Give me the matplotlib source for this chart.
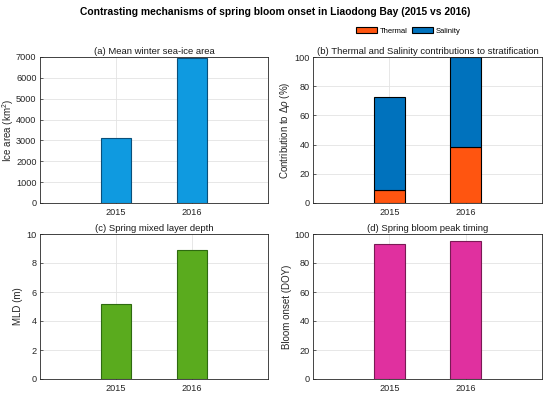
import matplotlib.pyplot as plt
from matplotlib.patches import Patch

years = ["2015", "2016"]
ice_area = [3120, 6940]
thermal = [8.7, 38.1]
salinity = [63.8, 61.9]
mld = [5.2, 8.9]
bloom_doy = [93.3, 95.2]

plt.rcParams["font.family"] = "Liberation Sans"
plt.rcParams["font.size"] = 7
plt.rcParams["mathtext.fontset"] = "custom"
plt.rcParams["mathtext.rm"] = "Liberation Sans"
plt.rcParams["mathtext.it"] = "Liberation Sans:italic"


def style_ax(ax, ymax, yticks, title, ylabel, label_x):
    ax.set_xlim(0, 3)
    ax.set_xticks([1, 2])
    ax.set_xticklabels(years)
    ax.set_ylim(0, ymax)
    ax.set_yticks(yticks)
    ax.set_title(title, fontsize=6.8, pad=2, color="#1a1a1a")
    ax.set_ylabel(ylabel, fontsize=7.0, color="#262626")
    ax.yaxis.set_label_coords(label_x, 0.5)
    ax.grid(True, color="#e3e3e3", lw=0.6)
    ax.set_axisbelow(True)
    ax.tick_params(direction="in", length=2, width=0.5, colors="#262626", labelsize=6.6)
    ax.tick_params(axis="y", pad=2.5)
    for s in ax.spines.values():
        s.set_color("#262626")
        s.set_linewidth(0.6)


fig = plt.figure(figsize=(5.5, 3.96), dpi=100)
ax_a = fig.add_axes([40 / 550, 1 - 203 / 396, 228 / 550, 146 / 396])
ax_b = fig.add_axes([313 / 550, 1 - 203 / 396, 229 / 550, 146 / 396])
ax_c = fig.add_axes([40 / 550, 1 - 379 / 396, 228 / 550, 145 / 396])
ax_d = fig.add_axes([313 / 550, 1 - 379 / 396, 229 / 550, 145 / 396])

x = [1, 2]
w = 0.4

ax_a.bar(x, ice_area, w, color="#0f9ae0", edgecolor="#0a4f7a", lw=0.8)
style_ax(ax_a, 7000, range(0, 7001, 1000), "(a) Mean winter sea-ice area",
         "Ice area (km$^2$)", -0.106)

ax_b.bar(x, thermal, w, color="#ff5510", edgecolor="black", lw=0.8)
ax_b.bar(x, salinity, w, bottom=thermal, color="#0072bd", edgecolor="black", lw=0.8)
style_ax(ax_b, 100, range(0, 101, 20),
         "(b) Thermal and Salinity contributions to stratification",
         r"Contribution to $\Delta\rho$ (%)", -0.092)

ax_c.bar(x, mld, w, color="#5aab1e", edgecolor="#2e6a10", lw=0.8)
style_ax(ax_c, 10, range(0, 11, 2), "(c) Spring mixed layer depth", "MLD (m)", -0.075)

ax_d.bar(x, bloom_doy, w, color="#e0309f", edgecolor="#7a1a55", lw=0.8)
style_ax(ax_d, 100, range(0, 101, 20), "(d) Spring bloom peak timing",
         "Bloom onset (DOY)", -0.092)

handles = [Patch(facecolor="#ff5510", edgecolor="black", lw=0.8, label="Thermal"),
           Patch(facecolor="#0072bd", edgecolor="black", lw=0.8, label="Salinity")]
fig.legend(handles=handles, loc="center", bbox_to_anchor=(408 / 550, 1 - 31 / 396),
           ncol=2, frameon=False, fontsize=5.5, handlelength=2.8, handleheight=0.9,
           handletextpad=0.3, columnspacing=0.6)

fig.suptitle("Contrasting mechanisms of spring bloom onset in Liaodong Bay (2015 vs 2016)",
             fontsize=7.4, fontweight="bold", y=1 - 12 / 396, va="center")

fig.savefig("out.png", dpi=100)
